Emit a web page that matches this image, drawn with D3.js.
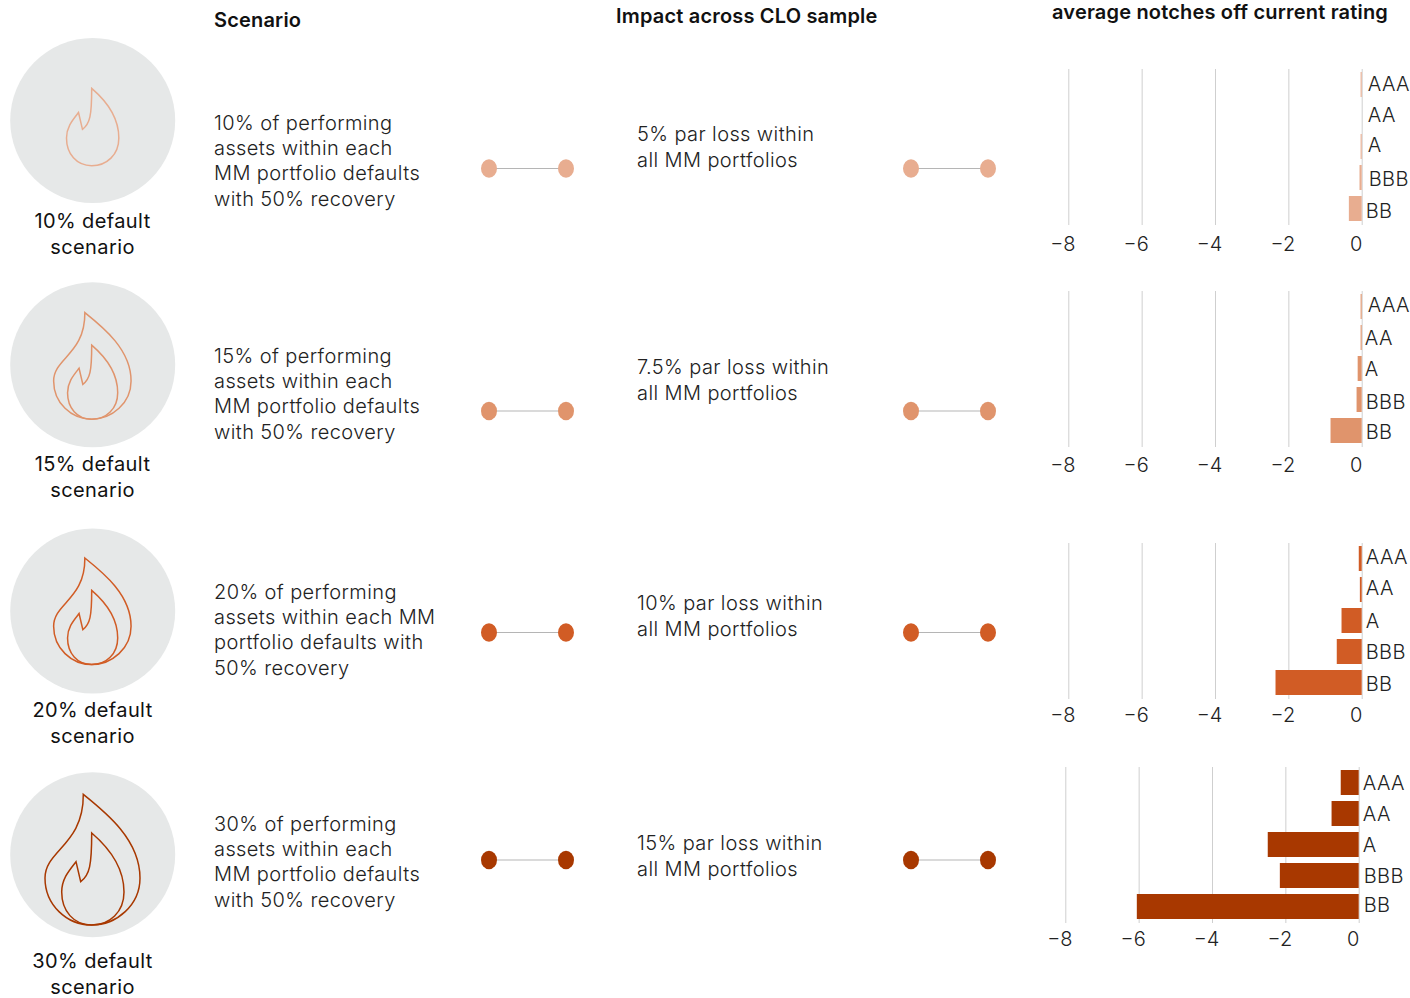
<!DOCTYPE html>
<html><head><meta charset="utf-8">
<script src="https://cdn.jsdelivr.net/npm/d3@7/dist/d3.min.js"></script>
<style>
html,body{margin:0;padding:0;background:#fff}
svg{display:block}
text{font-family:"Inter","Noto Sans",sans-serif;fill:#222}
.body{font-weight:300;font-size:20px;letter-spacing:.4px}
.head{font-weight:600;font-size:20px;fill:#111;letter-spacing:.18px}
.cap{font-weight:400;font-size:20px;fill:#111;text-anchor:middle;letter-spacing:.4px}
.tick text{font-weight:300;font-size:20px}
</style></head><body>
<svg id="c" width="1410" height="998"></svg>
<script>
const ratings = ["AAA","AA","A","BBB","BB"];
const notches10 = [-0.03, 0, -0.03, -0.06, -0.35];
const notches15 = [-0.03, -0.03, -0.11, -0.14, -0.85];
const notches20 = [-0.08, -0.05, -0.55, -0.68, -2.35];
const notches30 = [-0.49, -0.74, -2.48, -2.15, -6.05];
const xTicks = [-8,-6,-4,-2,0];
const colors = ["#E8AD90","#E0946C","#D15C25","#A83800"];
const captions = [["10% default","scenario"],["15% default","scenario"],["20% default","scenario"],["30% default","scenario"]];
const scenarios = [
 ["10% of performing","assets within each","MM portfolio defaults","with 50% recovery"],
 ["15% of performing","assets within each","MM portfolio defaults","with 50% recovery"],
 ["20% of performing","assets within each MM","portfolio defaults with","50% recovery"],
 ["30% of performing","assets within each","MM portfolio defaults","with 50% recovery"]];
const impacts = [
 ["5% par loss within","all MM portfolios"],
 ["7.5% par loss within","all MM portfolios"],
 ["10% par loss within","all MM portfolios"],
 ["15% par loss within","all MM portfolios"]];
const headers = ["Scenario","Impact across CLO sample","average notches off current rating"];
const allNotches = [notches10,notches15,notches20,notches30];

// layout
const circleY=[120.5,364.8,611,854.7], flameBottom=[165.7,419.2,664.5,925], innerScale=[.84,.805,.805,1], outerScale=[0,.815,.815,1];
const capY=[228,471,717,968], scenY=[130,363,599,831], impY=[141,374,610,850], dotY=[168.5,411,632.5,860];
const barTop=[72,294,546,770], zeroX=[1361.7,1361.7,1361.7,1358.7], tickY=[251,472,722,946];
const labelDx=[[6,6,6,7,4],[6,3,3,4,4],[4,4,4,4,4],[4,4,4,5,5]];
const labelDy=[[-1,-1,-2,1,2],[-2,0,0,2,1],[-2,-2,0,0,1],[0,0,0,0,-2]];
const inner="M0,-92C14,-80 32.3,-60 32.3,-33C32.3,-13 18,0 0,0C-18,0 -30,-14 -30,-33C-30,-46 -23,-54 -15.7,-63.3L-11,-43.3C-2,-50 0,-60 0,-92Z";
const outer="M-8.4,-130.7C15,-112 48.3,-85 48.3,-47C48.3,-20 25,0 0,0C-25,0 -46.7,-20 -46.7,-47C-46.7,-75 -8,-80 -8.4,-130.7Z";

const svg=d3.select("#c");
[[214,27],[616,23],[1052,19]].forEach((p,i)=>svg.append("text").attr("class","head").attr("x",p[0]).attr("y",p[1]).text(headers[i]));

allNotches.forEach((vals,r)=>{
  const g=svg.append("g"), col=colors[r];
  g.append("circle").attr("cx",92.7).attr("cy",circleY[r]).attr("r",82.5).attr("fill","#E6E8E8");
  const fl=g.append("g").attr("fill","none").attr("stroke",col).attr("stroke-width",1.5);
  fl.append("path").attr("d",inner).attr("vector-effect","non-scaling-stroke")
    .attr("transform",`translate(91.7,${flameBottom[r]}) scale(${innerScale[r]})`);
  if(outerScale[r]) fl.append("path").attr("d",outer).attr("vector-effect","non-scaling-stroke")
    .attr("transform",`translate(91.7,${flameBottom[r]}) scale(${outerScale[r]})`);
  captions[r].forEach((t,i)=>g.append("text").attr("class","cap").attr("x",92.5).attr("y",capY[r]+i*26).text(t));
  scenarios[r].forEach((t,i)=>g.append("text").attr("class","body").attr("x",214).attr("y",scenY[r]+i*25.2).text(t));
  impacts[r].forEach((t,i)=>g.append("text").attr("class","body").attr("x",637).attr("y",impY[r]+i*25.5).text(t));
  [[489,566],[911,988]].forEach(([a,b])=>{
    g.append("line").attr("x1",a).attr("x2",b).attr("y1",dotY[r]).attr("y2",dotY[r]).attr("stroke","#b5b5b5").attr("stroke-width",1.2);
    [a,b].forEach(x=>g.append("ellipse").attr("cx",x).attr("cy",dotY[r]).attr("rx",8).attr("ry",9.3).attr("fill",col));
  });
  const x=d3.scaleLinear().domain([-8,0]).range([zeroX[r]-293.4,zeroX[r]]);
  const y=d3.scaleBand().domain(ratings).range([barTop[r],barTop[r]+149]).paddingInner(6/31).paddingOuter(0);
  const axis=g.append("g").attr("transform",`translate(0,${barTop[r]+153})`)
    .call(d3.axisBottom(x).tickValues(xTicks).tickSize(-156).tickPadding(0));
  axis.select(".domain").remove();
  axis.selectAll(".tick line").attr("stroke","#cfcfcf").attr("stroke-width",1);
  axis.selectAll(".tick text").attr("dy",0).attr("dx",-6).attr("y",tickY[r]-barTop[r]-153).attr("fill","#222");
  g.selectAll("rect").data(vals).join("rect")
    .attr("x",d=>x(d)).attr("width",d=>x(0)-x(d)).attr("y",(d,i)=>y(ratings[i])).attr("height",y.bandwidth()).attr("fill",col);
  g.selectAll("text.rl").data(ratings).join("text").attr("class","rl body")
    .attr("x",(d,i)=>x(0)+labelDx[r][i]).attr("y",(d,i)=>y(d)+y.bandwidth()/2+7+labelDy[r][i]).text(d=>d);
});
</script></body></html>
